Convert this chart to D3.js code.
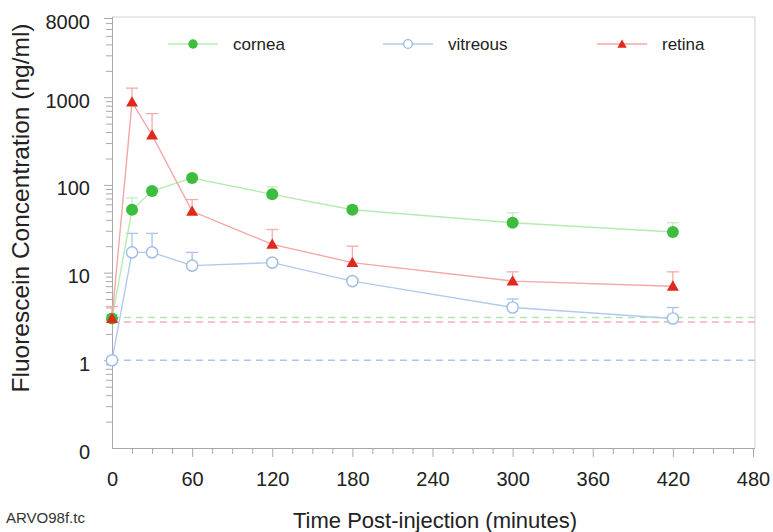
<!DOCTYPE html>
<html>
<head>
<meta charset="utf-8">
<script src="https://cdn.jsdelivr.net/npm/d3@7"></script>
<style>
  html, body { margin: 0; padding: 0; background: #fff; }
  svg { display: block; font-family: "Liberation Sans", Arial, Helvetica, sans-serif; }
</style>
</head>
<body>
<svg id="chart" width="773" height="532"></svg>
<script>
// ---- data ----
const times = [0, 15, 30, 60, 120, 180, 300, 420];
const cornea = [3.0, 52, 85, 120, 78, 52, 37, 29];
const corneaErr = [3.3, 71, 92, 130, 95, 58, 48, 37];
const vitreous = [1.0, 17, 17, 12, 13, 8, 4, 3];
const vitreousErr = [1.0, 28, 28, 17, 14, 8.6, 5, 4];
const retina = [3.0, 880, 370, 50, 21, 13, 8, 7];
const retinaErr = [4.1, 1270, 650, 68, 31, 20, 10.2, 10.2];
const baselineVals = { cornea: 3.08, vitreous: 1.0, retina: 2.74 };
const yTickVals = [0.1, 1, 10, 100, 1000, 8000];
const yTickLabels = ["0", "1", "10", "100", "1000", "8000"];
const xTickVals = [0, 60, 120, 180, 240, 300, 360, 420, 480];
const seriesNames = ["cornea", "vitreous", "retina"];

// ---- layout ----
const svg = d3.select("#chart");
const L = 112, R = 755, T = 18, B = 448;
const x = d3.scaleLinear().domain([0, 480]).range([L, 753]);
const y = d3.scaleLog().domain([0.1, 8000]).range([B, T]);

const axisGray = "#a8a8a8";
const frameGray = "#d0d0d0";

// frame
svg.append("line").attr("x1", L).attr("x2", R).attr("y1", 17).attr("y2", 17).attr("stroke", frameGray);
svg.append("line").attr("x1", R).attr("x2", R).attr("y1", 17).attr("y2", B).attr("stroke", frameGray);

// y axis
const minorY = [];
[0.1, 1, 10, 100, 1000].forEach(d => { for (let k = 2; k <= 9; k++) { const v = d * k; if (v < 8000) minorY.push(v); } });
const yAxisMinor = d3.axisLeft(y).tickValues(minorY).tickSize(6).tickFormat("");
const gyMin = svg.append("g").attr("transform", `translate(${L},0)`).call(yAxisMinor);
const yAxis = d3.axisLeft(y).tickValues(yTickVals).tickSize(8).tickPadding(14)
  .tickFormat((d, i) => yTickLabels[i]);
const gy = svg.append("g").attr("transform", `translate(${L},0)`).call(yAxis);
[gy, gyMin].forEach(g => {
  g.select(".domain").attr("stroke", axisGray).attr("d", `M0.5,${T - 1}V${B}`);
  g.selectAll(".tick line").attr("stroke", axisGray);
  g.selectAll(".tick text").attr("font-size", 20).attr("fill", "#222")
    .attr("font-family", "'Liberation Sans', Arial, sans-serif");
});
gy.selectAll(".tick text").attr("dy", "0.5em");
gy.select(".tick:first-of-type line").remove();

// x axis
const minorX = d3.range(0, 481, 15).filter(v => v % 60 !== 0);
const gxMin = svg.append("g").attr("transform", `translate(0,${B})`)
  .call(d3.axisBottom(x).tickValues(minorX).tickSize(6).tickFormat(""));
const gx = svg.append("g").attr("transform", `translate(0,${B})`)
  .call(d3.axisBottom(x).tickValues(xTickVals).tickSize(9).tickPadding(15).tickFormat(d3.format("d")));
[gx, gxMin].forEach(g => {
  g.select(".domain").attr("stroke", axisGray).attr("d", `M${L},0.5H${R}`);
  g.selectAll(".tick line").attr("stroke", axisGray);
  g.selectAll(".tick text").attr("font-size", 20).attr("fill", "#222")
    .attr("font-family", "'Liberation Sans', Arial, sans-serif");
});
gx.select(".tick:first-of-type line").remove();

// axis titles
svg.append("text").attr("x", 435).attr("y", 528).attr("text-anchor", "middle")
  .attr("font-size", 22).attr("fill", "#222").text("Time Post-injection (minutes)");
svg.append("text").attr("transform", "translate(29,208) rotate(-90)").attr("text-anchor", "middle")
  .attr("font-size", 24.5).attr("fill", "#222").text("Fluorescein Concentration (ng/ml)");
svg.append("text").attr("x", 6).attr("y", 523).attr("font-size", 15).attr("fill", "#333")
  .text("ARVO98f.tc");

// series config
const series = [
  { name: "cornea", vals: cornea, err: corneaErr, line: "#b6ebb0", errC: "#c4ecc0", mark: "#3dbd3d", type: "dot", base: baselineVals.cornea, dash: "#b4e6ae" },
  { name: "vitreous", vals: vitreous, err: vitreousErr, line: "#b2caee", errC: "#a9c3ec", mark: "#9bbbe8", type: "ring", base: baselineVals.vitreous, dash: "#aec4ee" },
  { name: "retina", vals: retina, err: retinaErr, line: "#f6a6a6", errC: "#f6aaaa", mark: "#e0281c", type: "tri", base: baselineVals.retina, dash: "#f6b0b0" }
];

// baselines (dashed)
series.forEach(s => {
  svg.append("line").attr("x1", L).attr("x2", R).attr("y1", y(s.base)).attr("y2", y(s.base))
    .attr("stroke", s.dash).attr("stroke-width", 1.5).attr("stroke-dasharray", "7,5");
});

function drawMarker(g, s, cx, cy, small) {
  const k = small ? 0.78 : 1;
  if (s.type === "dot") {
    g.append("circle").attr("cx", cx).attr("cy", cy).attr("r", 6 * k).attr("fill", s.mark);
  } else if (s.type === "ring") {
    g.append("circle").attr("cx", cx).attr("cy", cy).attr("r", 5.6 * k).attr("fill", "#fff")
      .attr("stroke", s.mark).attr("stroke-width", 1.4);
  } else {
    const tri = d3.symbol().type(d3.symbolTriangle).size(62 * k * k);
    g.append("path").attr("d", tri()).attr("transform", `translate(${cx},${cy + 1})`).attr("fill", s.mark);
  }
}

const lineGen = d3.line().x(d => x(d[0])).y(d => y(d[1]));
[series[1], series[0], series[2]].forEach(s => {
  const g = svg.append("g");
  const pts = times.map((t, i) => [t, s.vals[i]]);
  times.forEach((t, i) => {
    if (s.err[i] > s.vals[i] * 1.02) {
      g.append("line").attr("x1", x(t)).attr("x2", x(t)).attr("y1", y(s.vals[i])).attr("y2", y(s.err[i]))
        .attr("stroke", s.errC).attr("stroke-width", 1.3);
      g.append("line").attr("x1", x(t) - 6).attr("x2", x(t) + 6).attr("y1", y(s.err[i])).attr("y2", y(s.err[i]))
        .attr("stroke", s.errC).attr("stroke-width", 1.3);
    }
  });
  g.append("path").datum(pts).attr("d", lineGen).attr("fill", "none").attr("stroke", s.line).attr("stroke-width", 1.4);
  pts.forEach(p => drawMarker(g, s, x(p[0]), y(p[1]), false));
});

// legend
const legX = [168, 383, 597];
series.forEach((s, i) => {
  const g = svg.append("g");
  const ly = 44;
  g.append("line").attr("x1", legX[i]).attr("x2", legX[i] + 50).attr("y1", ly).attr("y2", ly)
    .attr("stroke", s.line).attr("stroke-width", 1.4);
  drawMarker(g, s, legX[i] + 25, ly, true);
  g.append("text").attr("x", legX[i] + 65).attr("y", ly + 6).attr("font-size", 17).attr("fill", "#222").text(s.name);
});
</script>
</body>
</html>
